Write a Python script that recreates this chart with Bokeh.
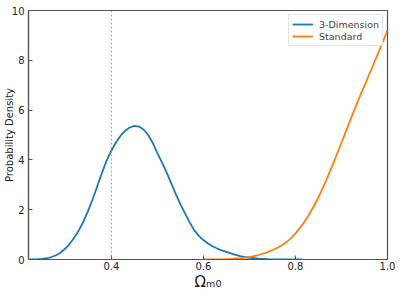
from bokeh.plotting import figure
from bokeh.models import Range1d, FixedTicker, Span, Legend
from bokeh.embed import file_html
from bokeh.resources import INLINE

# ---- data ----
dim3_x = [0.222, 0.23, 0.24, 0.25, 0.26, 0.27, 0.28, 0.29, 0.30, 0.31, 0.32, 0.33,
          0.34, 0.35, 0.36, 0.37, 0.38, 0.39, 0.40, 0.41, 0.42, 0.43, 0.44, 0.45,
          0.46, 0.47, 0.48, 0.49, 0.50, 0.51, 0.52, 0.53, 0.54, 0.55, 0.56, 0.57,
          0.58, 0.59, 0.60, 0.61, 0.62, 0.63, 0.64, 0.65, 0.66, 0.67, 0.68, 0.69,
          0.70, 0.72, 0.74, 0.77, 0.815]
dim3_y = [0.0, 0.003, 0.01, 0.025, 0.05, 0.10, 0.17, 0.28, 0.44, 0.64, 0.89, 1.19,
          1.55, 1.97, 2.45, 2.97, 3.50, 3.98, 4.37, 4.70, 4.97, 5.17, 5.30, 5.37,
          5.34, 5.22, 5.00, 4.68, 4.27, 3.90, 3.50, 3.07, 2.63, 2.22, 1.85, 1.50,
          1.18, 0.95, 0.78, 0.64, 0.53, 0.44, 0.37, 0.31, 0.25, 0.19, 0.14, 0.10,
          0.07, 0.035, 0.015, 0.005, 0.0]
std_x = [0.60, 0.64, 0.66, 0.68, 0.70, 0.72, 0.74, 0.76, 0.77, 0.78, 0.79, 0.80,
         0.81, 0.82, 0.83, 0.84, 0.85, 0.86, 0.87, 0.88, 0.89, 0.90, 0.92, 0.94,
         0.96, 0.98, 1.00]
std_y = [0.0, 0.005, 0.02, 0.05, 0.10, 0.18, 0.30, 0.46, 0.56, 0.69, 0.85, 1.04,
         1.27, 1.53, 1.82, 2.14, 2.50, 2.90, 3.32, 3.76, 4.22, 4.69, 5.64, 6.55,
         7.42, 8.30, 9.20]
ref_value = 0.4
x_ticks = [0.4, 0.6, 0.8, 1.0]
x_tick_labels = ["0.4", "0.6", "0.8", "1.0"]
y_ticks = [0, 2, 4, 6, 8, 10]
y_tick_labels = ["0", "2", "4", "6", "8", "10"]
series_names = ["3-Dimension", "Standard"]
colors = ["#1f77b4", "#ff7f0e"]
x_label = "Ωₘ₀"
y_label = "Probability Density"

FONT = "DejaVu Sans"
AX = "#555555"
TXT = "#222222"

p = figure(width=407, height=305, output_backend="svg", toolbar_location=None,
           x_range=Range1d(0.22, 1.0), y_range=Range1d(0, 10),
           min_border_left=27, min_border_right=20, min_border_top=10,
           min_border_bottom=46)

p.grid.visible = False
p.outline_line_color = AX
p.outline_line_width = 1.2

for ax in (p.xaxis[0], p.yaxis[0]):
    ax.axis_line_color = AX
    ax.axis_line_width = 1.2
    ax.major_tick_line_color = AX
    ax.major_tick_in = 4
    ax.major_tick_out = 0
    ax.minor_tick_line_color = None
    ax.major_label_text_font = FONT
    ax.major_label_text_font_size = "10px"
    ax.major_label_text_color = TXT
    ax.axis_label_text_font = FONT
    ax.axis_label_text_font_style = "normal"
    ax.axis_label_text_color = TXT

p.xaxis[0].ticker = FixedTicker(ticks=x_ticks)
p.xaxis[0].major_label_overrides = dict(zip(x_ticks, x_tick_labels))
p.xaxis[0].major_label_standoff = 2
p.xaxis[0].axis_label = x_label
p.xaxis[0].axis_label_text_font_size = "15px"
p.xaxis[0].axis_label_standoff = 0

p.yaxis[0].ticker = FixedTicker(ticks=y_ticks)
p.yaxis[0].major_label_overrides = dict(zip(y_ticks, y_tick_labels))
p.yaxis[0].major_label_standoff = 4
p.yaxis[0].axis_label = y_label
p.yaxis[0].axis_label_text_font_size = "10px"
p.yaxis[0].axis_label_standoff = -6

p.add_layout(Span(location=ref_value, dimension="height", line_color="#888888",
                  line_width=0.8, line_dash="2 2"))

r1 = p.line(dim3_x, dim3_y, line_width=1.8, color=colors[0], line_join="round")
r2 = p.line(std_x, std_y, line_width=1.8, color=colors[1], line_join="round")

legend = Legend(items=[(series_names[0], [r1]), (series_names[1], [r2])],
                location="top_right", margin=4, padding=3, spacing=0,
                glyph_width=21, glyph_height=12, label_height=12,
                label_standoff=6, label_text_font=FONT,
                label_text_font_size="9.5px", border_line_color="#cccccc",
                border_line_width=1, background_fill_alpha=0.8)
p.add_layout(legend)

open("out.html", "w").write(file_html(p, INLINE))
